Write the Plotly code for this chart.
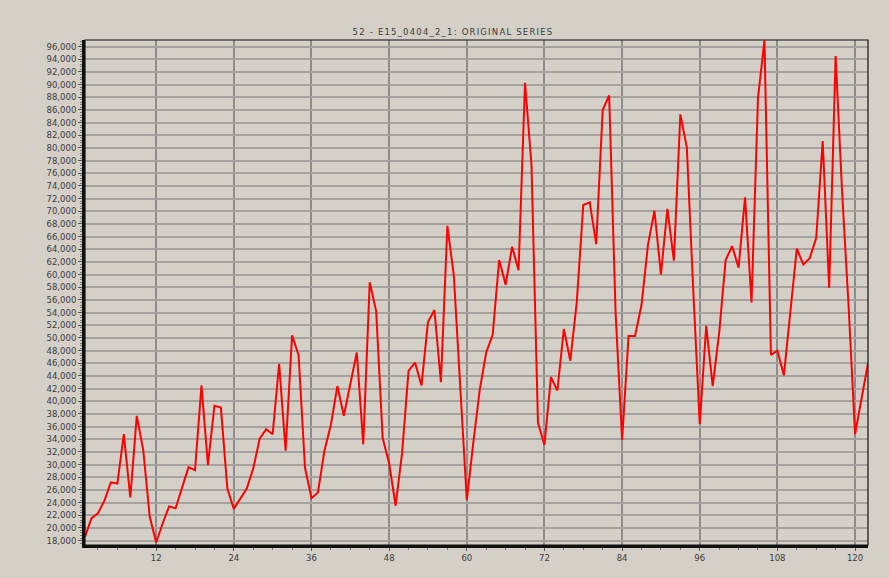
import plotly.graph_objects as go

# Monthly observations, periods 1..122
periods = list(range(1, 123))
values = [
    18600, 21500, 22300, 24300, 27200, 27000, 34800, 24800, 37700, 32300,
    21800, 17700, 20700, 23400, 23100, 26300, 29600, 29100, 42500, 29900,
    39300, 39000, 26200, 23000, 24600, 26200, 29400, 34100, 35600, 34800,
    45900, 32200, 50400, 47300, 29500, 24700, 25600, 32200, 36300, 42400,
    37700, 42600, 47700, 33200, 58800, 54200, 34200, 30200, 23500, 31800,
    44800, 46100, 42500, 52500, 54400, 43000, 67700, 59800, 42200, 24400,
    33400, 41800, 47700, 50500, 62300, 58400, 64400, 60700, 90300, 77300,
    36600, 33100, 43800, 41700, 51400, 46400, 55700, 71000, 71400, 64800,
    86000, 88300, 53900, 33900, 50300, 50300, 55200, 64700, 70100, 60000,
    70400, 62200, 85300, 80100, 57500, 36400, 51900, 42400, 50800, 62300,
    64500, 61100, 72200, 55600, 87900, 97000, 47300, 48000, 44100, 54000,
    64100, 61600, 62600, 65800, 81100, 57900, 94500, 73000, 55000, 34800,
    40200, 46000,
]

x_ticks = list(range(12, 121, 12))
y_ticks = list(range(18000, 96001, 2000))
y_tick_labels = [f"{v:,}" for v in y_ticks]
title_text = "52 - E15_0404_2_1: ORIGINAL SERIES"

BG = "#d4d0c8"
TICK_FONT = dict(family="DejaVu Sans", size=8.5, color="#3a3a3a")

fig = go.Figure()
fig.add_trace(go.Scatter(
    x=periods, y=values, mode="lines",
    line=dict(color="#ff0000", width=2),
    showlegend=False, cliponaxis=True,
))

fig.update_layout(
    width=889, height=578,
    margin=dict(l=85, r=21, t=40, b=33),
    paper_bgcolor=BG, plot_bgcolor=BG,
    title=dict(
        text=f'<span style="letter-spacing:1.2px">{title_text}</span>',
        x=453 / 889, xref="container", xanchor="center",
        y=1 - 32 / 578, yref="container", yanchor="middle",
        font=dict(family="DejaVu Sans", size=8.5, color="#3a3a3a"),
    ),
    shapes=[dict(
        type="rect", xref="paper", yref="paper", x0=0, y0=0, x1=1, y1=1,
        line=dict(color="#111111", width=1.2), layer="above",
    )],
)

fig.update_xaxes(
    range=[1, 122], tickmode="array", tickvals=x_ticks,
    ticktext=[str(t) for t in x_ticks],
    showgrid=True, gridcolor="#8c8c8c", gridwidth=2,
    zeroline=False, showline=True, linecolor="#111111", linewidth=3,
    ticks="outside", ticklen=3, tickcolor="#555555",
    minor=dict(dtick=3, tick0=0, ticks="outside", ticklen=2,
               tickcolor="#777777", showgrid=False),
    tickfont=TICK_FONT,
)

fig.update_yaxes(
    range=[17300, 97050], tickmode="array", tickvals=y_ticks,
    ticktext=y_tick_labels,
    showgrid=True, gridcolor="#a4a29e", gridwidth=2,
    zeroline=False, showline=True, linecolor="#111111", linewidth=3,
    ticks="outside", ticklen=4, tickcolor="#555555",
    minor=dict(dtick=400, tick0=0, ticks="outside", ticklen=2,
               tickcolor="#777777", showgrid=False),
    tickfont=TICK_FONT,
)

fig.write_html("out.html")
